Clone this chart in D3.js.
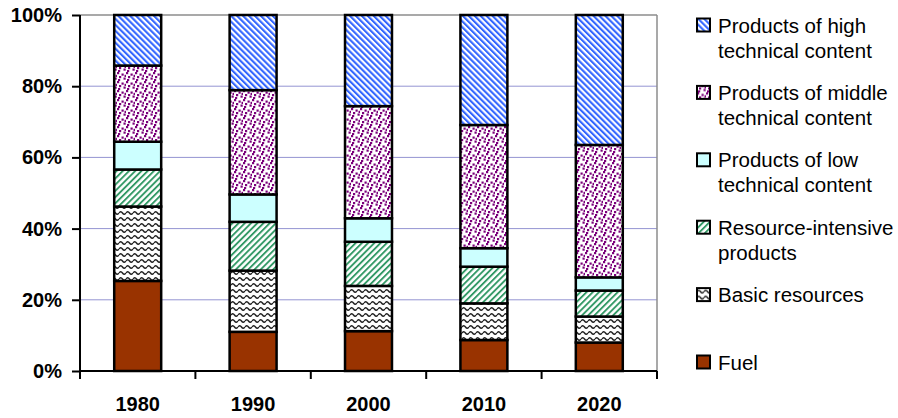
<!DOCTYPE html>
<html><head><meta charset="utf-8">
<script src="https://cdn.jsdelivr.net/npm/d3@7"></script>
<style>
html,body{margin:0;padding:0;background:#fff;}
svg{display:block;font-family:"Liberation Sans",Arial,sans-serif;}
</style></head>
<body>
<svg id="chart" width="898" height="418"></svg>
<script>
const years = ["1980","1990","2000","2010","2020"];
const fuel      = [25.3, 11.0, 11.2, 8.7, 8.0];
const basic     = [20.9, 17.2, 12.7, 10.3, 7.3];
const resource  = [10.4, 13.7, 12.4, 10.3, 7.3];
const lowTech   = [7.8, 7.7, 6.6, 5.2, 3.7];
const midTech   = [21.4, 29.3, 31.5, 34.6, 37.2];
const highTech  = [14.2, 21.1, 25.6, 30.9, 36.5];
const seriesKeys = ["fuel","basic","resource","low","middle","high"];
const seriesLabels = {
  high: ["Products of high","technical content"],
  middle: ["Products of middle","technical content"],
  low: ["Products of low","technical content"],
  resource: ["Resource-intensive","products"],
  basic: ["Basic resources"],
  fuel: ["Fuel"]
};
const yTicks = [0,20,40,60,80,100];

const rows = years.map((y,i)=>({year:y, fuel:fuel[i], basic:basic[i], resource:resource[i], low:lowTech[i], middle:midTech[i], high:highTech[i]}));

const svg = d3.select("#chart");
const L=80, R=657, T=15, B=371;

// patterns
const defs = svg.append("defs");
function stripes(id, color, angle, period, w){
  const p = defs.append("pattern").attr("id",id).attr("patternUnits","userSpaceOnUse")
    .attr("width",period).attr("height",period).attr("patternTransform",`rotate(${angle})`);
  p.append("rect").attr("width",period).attr("height",period).attr("fill","#fff");
  p.append("rect").attr("width",w).attr("height",period).attr("fill",color);
}
stripes("pHigh","#3366ff",-45,4.2,2.1);
stripes("pRes","#339966",45,4.4,1.9);
// dots
(function(){
  const p = defs.append("pattern").attr("id","pMid").attr("patternUnits","userSpaceOnUse").attr("width",9).attr("height",9);
  p.append("rect").attr("width",9).attr("height",9).attr("fill","#fff");
  [[0,0],[4.5,1.5],[2,4],[6.5,5.5],[1,7],[7.5,2.8]].forEach(d=>{
    p.append("rect").attr("x",d[0]).attr("y",d[1]).attr("width",2.2).attr("height",2.2).attr("fill","#7a007a");
  });
})();
// waves
(function(){
  const p = defs.append("pattern").attr("id","pBasic").attr("patternUnits","userSpaceOnUse").attr("width",7).attr("height",6);
  p.append("rect").attr("width",7).attr("height",6).attr("fill","#fff");
  p.append("path").attr("d","M0,3 Q1.75,0.5 3.5,3 T7,3").attr("fill","none").attr("stroke","#222").attr("stroke-width",1.4);
})();
const fills = {high:"url(#pHigh)", middle:"url(#pMid)", low:"#ccffff", resource:"url(#pRes)", basic:"url(#pBasic)", fuel:"#993300"};

const x = d3.scaleBand().domain(years).range([L,R]).paddingInner(0.593).paddingOuter(0.2965);
const y = d3.scaleLinear().domain([0,100]).range([B,T]);

// gridlines
svg.append("g").selectAll("line").data(yTicks.filter(d=>d>0 && d<100)).join("line")
  .attr("x1",L).attr("x2",R).attr("y1",d=>y(d)).attr("y2",d=>y(d))
  .attr("stroke","#9494d2").attr("stroke-width",1);
// top and right border
svg.append("line").attr("x1",L).attr("x2",R).attr("y1",y(100)).attr("y2",y(100)).attr("stroke","#8c8c8c").attr("stroke-width",1.5);
svg.append("line").attr("x1",R).attr("x2",R).attr("y1",y(100)).attr("y2",y(0)).attr("stroke","#8c8c8c").attr("stroke-width",1.5);

// bars
const stack = d3.stack().keys(seriesKeys)(rows);
svg.append("g").selectAll("g").data(stack).join("g")
  .attr("fill",d=>fills[d.key])
  .selectAll("rect").data(d=>d).join("rect")
  .attr("x",d=>x(d.data.year)).attr("width",x.bandwidth())
  .attr("y",d=>y(d[1])).attr("height",d=>y(d[0])-y(d[1]))
  .attr("stroke","#000").attr("stroke-width",2.5);

// y axis
const yAxis = svg.append("g").attr("transform",`translate(${L},0)`)
  .call(d3.axisLeft(y).tickValues(yTicks).tickFormat(d=>d+"%").tickSize(8).tickSizeOuter(0).tickPadding(10));
yAxis.select(".domain").attr("stroke","#000").attr("stroke-width",2).attr("d",`M0,${T}V${B+7}`);
yAxis.selectAll(".tick line").attr("stroke","#000").attr("stroke-width",2);
yAxis.selectAll("text").attr("font-size",20).attr("font-weight","bold").attr("fill","#000")
  .attr("font-family","'Liberation Sans',Arial,sans-serif");

// x axis
const xAxis = svg.append("g").attr("transform",`translate(0,${B})`)
  .call(d3.axisBottom(x).tickSize(0).tickPadding(26));
xAxis.select(".domain").attr("stroke","#000").attr("stroke-width",2).attr("d",`M${L},0H${R}`);
xAxis.selectAll("text").attr("font-size",20).attr("font-weight","bold").attr("fill","#000")
  .attr("font-family","'Liberation Sans',Arial,sans-serif");
const bounds = years.map(d=>x(d)+x.bandwidth()/2 - x.step()/2).concat([x(years[years.length-1])+x.bandwidth()/2+x.step()/2]);
xAxis.append("g").selectAll("line").data(bounds).join("line")
  .attr("x1",d=>d).attr("x2",d=>d).attr("y1",0).attr("y2",8)
  .attr("stroke","#000").attr("stroke-width",2);

// legend
const legendOrder = ["high","middle","low","resource","basic","fuel"];
const lg = svg.append("g");
const ly = d3.scalePoint().domain(legendOrder).range([25,362]);
legendOrder.forEach(k=>{
  const g = lg.append("g").attr("transform",`translate(697,${ly(k)})`);
  g.append("rect").attr("x",0).attr("y",-6.5).attr("width",13).attr("height",13)
    .attr("fill",fills[k]).attr("stroke","#000").attr("stroke-width",2);
  const t = g.append("text").attr("x",21).attr("y",7.5).attr("font-size",20.5).attr("fill","#000");
  seriesLabels[k].forEach((s,i)=>{
    t.append("tspan").attr("x",21).attr("dy",i===0?0:25).text(s);
  });
});
</script>
</body></html>
